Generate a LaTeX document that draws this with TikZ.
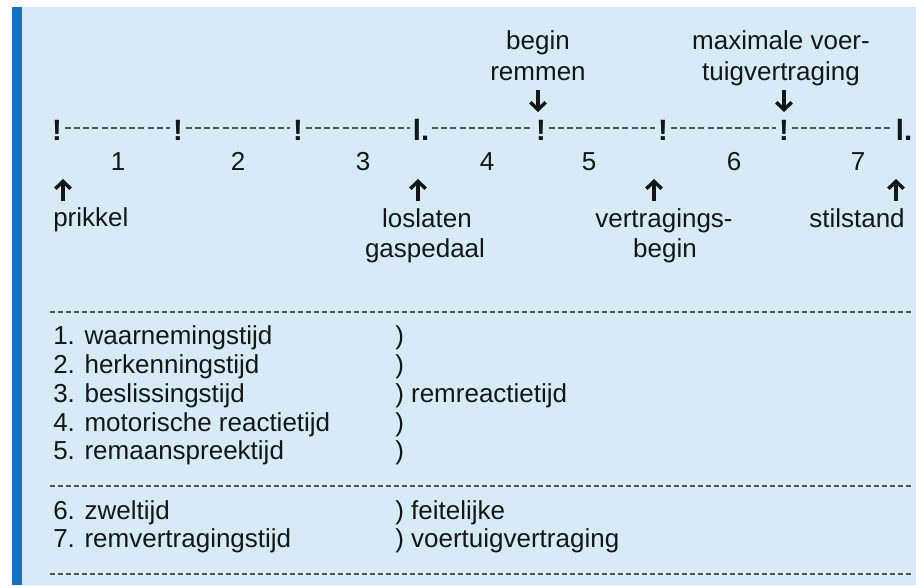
\documentclass[tikz,border=0pt]{standalone}
\usepackage{fontspec}
\setmainfont{Liberation Sans}
\usetikzlibrary{arrows.meta}
\definecolor{bgblue}{RGB}{214,235,245}
\definecolor{barblue}{RGB}{22,112,192}
\definecolor{ink}{RGB}{22,22,22}
\definecolor{dashgray}{RGB}{80,85,92}
\begin{document}
\begin{tikzpicture}[x=0.75pt,y=-0.75pt,
  txt/.style={font=\fontsize{19.5}{22}\selectfont, text=ink, inner sep=0pt, anchor=base},
  lft/.style={txt, anchor=base west},
  tick/.style={txt, font=\fontsize{22}{24}\selectfont\bfseries},
  tdash/.style={draw=dashgray, line width=0.9pt, dash pattern=on 4.5pt off 2.4pt},
  ldash/.style={draw=dashgray, line width=0.8pt, dash pattern=on 4pt off 2pt},
  barrow/.style={draw=ink, line width=2.6pt, -{Straight Barb[length=5.5pt,width=11.5pt]}}
]
\useasboundingbox (0,0) rectangle (916,585);
\fill[white] (0,0) rectangle (916,585);
\fill[bgblue] (22,7) rectangle (916,585);
\fill[barblue] (12,7) rectangle (22,585);

% timeline ticks
\node[tick] (t1) at (57,140) {!};
\node[tick] (t2) at (178,140) {!};
\node[tick] (t3) at (298,140) {!};
\node[tick] (t4) at (421,140) {l.};
\node[tick] (t5) at (541,140) {!};
\node[tick] (t6) at (663,140) {!};
\node[tick] (t7) at (784,140) {!};
\node[tick] (t8) at (904,140) {l.};
\foreach \a/\b in {t1/t2,t2/t3,t3/t4,t4/t5,t5/t6,t6/t7,t7/t8}
  \draw[tdash] ([xshift=2pt]\a.east |- 0,128) -- ([xshift=-2pt]\b.west |- 0,128);

% numbers
\node[txt] (n1) at (118,170) {1};
\node[txt] (n2) at (238,170) {2};
\node[txt] (n3) at (363,170) {3};
\node[txt] (n4) at (487,170) {4};
\node[txt] (n5) at (589,170) {5};
\node[txt] (n6) at (734,170) {6};
\node[txt] (n7) at (858,170) {7};

% up arrows
\foreach \i/\x in {1/63,2/418,3/654,4/896}{
  \coordinate (ua\i s) at (\x,201);
  \coordinate (ua\i e) at (\x,179);
  \draw[barrow] (ua\i s) -- (ua\i e);
}
% down arrows
\foreach \i/\x in {1/538,2/784}{
  \coordinate (da\i s) at (\x,90);
  \coordinate (da\i e) at (\x,112);
  \draw[barrow] (da\i s) -- (da\i e);
}

% labels below
\node[lft] (prikkel) at (53,226) {prikkel};
\node[txt] (loslaten) at (427,227) {loslaten};
\node[txt] (gaspedaal) at (425,257) {gaspedaal};
\node[txt] (vertr) at (664,227) {vertragings-};
\node[txt] (vbegin) at (665,257) {begin};
\node[txt] (stilstand) at (857,227) {stilstand};

% labels above
\node[txt] (begin) at (538,50) {begin};
\node[txt] (remmen) at (538,80) {remmen};
\node[txt] (maxv) at (781,50) {maximale voer-};
\node[txt] (tuig) at (781,80) {tuigvertraging};

% dividers
\draw[ldash] (50,312) -- (912,312);
\draw[ldash] (50,486) -- (912,486);
\draw[ldash] (50,574) -- (912,574);

% list
\node[lft] (i1) at (53,344) {1. waarnemingstijd};
\node[lft] (i2) at (53,373) {2. herkenningstijd};
\node[lft] (i3) at (53,402) {3. beslissingstijd};
\node[lft] (i4) at (53,431) {4. motorische reactietijd};
\node[lft] (i5) at (53,459) {5. remaanspreektijd};
\node[lft] (p1) at (395,344) {)};
\node[lft] (p2) at (395,373) {)};
\node[lft] (p3) at (395,402) {) remreactietijd};
\node[lft] (p4) at (395,431) {)};
\node[lft] (p5) at (395,459) {)};

\node[lft] (i6) at (53,519) {6. zweltijd};
\node[lft] (i7) at (53,547) {7. remvertragingstijd};
\node[lft] (p6) at (395,519) {) feitelijke};
\node[lft] (p7) at (395,547) {) voertuigvertraging};
\end{tikzpicture}
\end{document}
